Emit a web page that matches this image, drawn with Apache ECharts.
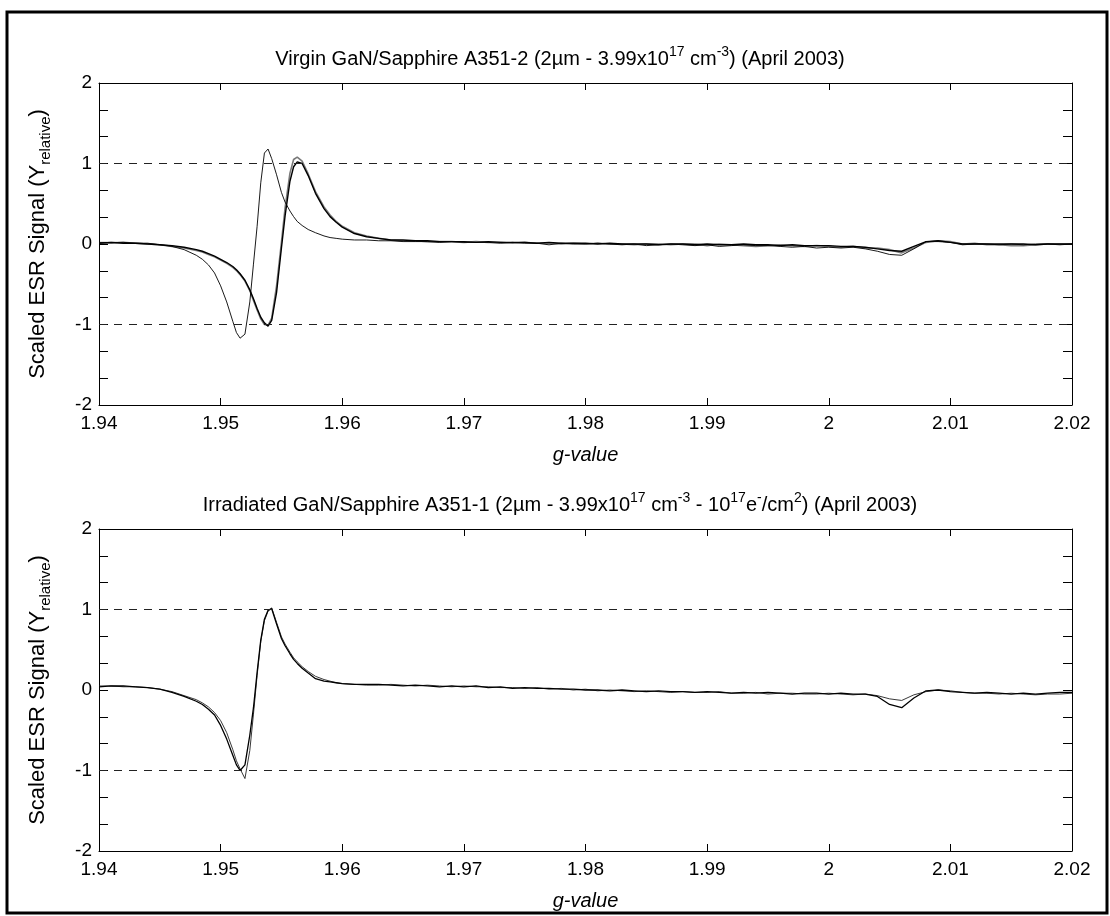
<!DOCTYPE html>
<html>
<head>
<meta charset="utf-8">
<script src="https://cdn.jsdelivr.net/npm/echarts@6/dist/echarts.min.js"></script>
<style>
html,body{margin:0;padding:0;background:#fff;}
#chart{width:1110px;height:916px;}
</style>
</head>
<body>
<div id="chart"></div>
<script>
// ---- data ----
var gPeak = [1.940,1.941,1.942,1.943,1.944,1.945,1.946,1.947,1.948,1.9485,
  1.949,1.9495,1.950,1.9505,1.951,1.9513,1.9516,1.952,1.9524,1.9527,
  1.953,1.9533,1.9536,1.9539,1.9542,1.9546,1.955,1.9553,1.9557,1.956,
  1.9563,1.9567,1.9572,1.9578,1.9585,1.959,1.9595,1.960,1.961,1.962,1.963];
var gFlat = [1.964,1.965,1.966,1.967,1.968,1.969,1.970,1.971,1.972,1.973,
  1.974,1.975,1.976,1.977,1.978,1.979,1.980,1.981,1.982,1.983,
  1.984,1.985,1.986,1.987,1.988,1.989,1.990,1.991,1.992,1.993,
  1.994,1.995,1.996,1.997,1.998,1.999,2.000,2.001,2.002,2.003,
  2.004,2.005,2.006,2.007,2.008,2.009,2.010,2.011,2.012,2.013,
  2.014,2.015,2.016,2.017,2.018,2.019,2.020];

// top plot (virgin)
var virginNarrowPeak = [0.02,0.02,0.02,0.01,0.01,-0.01,-0.03,-0.07,-0.14,-0.19,
  -0.26,-0.36,-0.52,-0.72,-0.96,-1.10,-1.17,-1.12,-0.72,-0.25,
  0.22,0.76,1.13,1.18,1.06,0.86,0.64,0.52,0.41,0.34,
  0.28,0.23,0.18,0.14,0.10,0.08,0.07,0.06,0.05,0.05,0.04];
var virginNarrowFlat = [0.04,0.03,0.03,0.03,0.02,0.03,0.02,0.02,0.02,0.01,
  0.02,0.01,0.01,-0.01,0.01,0.00,0.00,0.01,0.00,-0.01,
  0.00,-0.02,-0.01,0.00,-0.01,-0.02,-0.01,-0.03,-0.02,-0.01,
  -0.02,-0.02,-0.03,-0.04,-0.03,-0.05,-0.04,-0.05,-0.04,-0.06,
  -0.09,-0.13,-0.14,-0.06,0.03,0.03,0.02,-0.01,0.00,0.00,
  -0.01,0.00,-0.01,0.00,0.00,-0.01,0.00];
var virginWideAPeak = [0.01,0.02,0.01,0.01,0.00,-0.01,-0.02,-0.04,-0.07,-0.09,
  -0.12,-0.15,-0.19,-0.23,-0.28,-0.32,-0.37,-0.45,-0.57,-0.68,
  -0.80,-0.91,-0.98,-1.02,-0.95,-0.60,-0.05,0.35,0.78,0.96,
  1.02,1.00,0.85,0.63,0.44,0.34,0.27,0.21,0.13,0.09,0.07];
var virginWideAFlat = [0.05,0.05,0.04,0.04,0.03,0.03,0.03,0.02,0.03,0.02,
  0.02,0.02,0.01,0.02,0.01,0.01,0.01,0.00,0.01,0.00,
  0.00,0.00,-0.01,0.00,0.00,-0.01,0.00,-0.01,-0.01,0.00,
  -0.01,-0.01,-0.02,-0.01,-0.02,-0.02,-0.02,-0.03,-0.03,-0.04,
  -0.06,-0.08,-0.09,-0.03,0.03,0.04,0.02,0.00,0.00,0.00,
  0.00,0.00,0.00,-0.01,0.00,0.00,0.00];
var virginWideBPeak = [0.01,0.01,0.02,0.01,0.00,-0.01,-0.03,-0.05,-0.08,-0.10,
  -0.13,-0.16,-0.20,-0.24,-0.29,-0.33,-0.38,-0.46,-0.58,-0.70,
  -0.82,-0.93,-1.00,-1.01,-0.92,-0.52,0.02,0.45,0.88,1.05,
  1.08,1.03,0.87,0.65,0.46,0.36,0.28,0.22,0.14,0.10,0.07];
var virginWideBFlat = [0.05,0.04,0.04,0.03,0.03,0.03,0.02,0.03,0.02,0.02,
  0.01,0.02,0.01,0.01,0.00,0.01,0.00,0.01,0.00,0.00,
  -0.01,0.00,0.00,-0.01,0.00,0.00,-0.02,0.00,-0.01,-0.02,
  -0.03,-0.02,-0.01,-0.02,-0.03,-0.02,-0.03,-0.04,-0.03,-0.05,
  -0.05,-0.07,-0.11,-0.05,0.02,0.04,0.03,0.00,0.01,-0.01,
  -0.01,-0.02,-0.02,-0.01,0.00,0.00,0.00];

// bottom plot (irradiated)
var irrAPeak = [0.04,0.05,0.05,0.04,0.03,0.01,-0.03,-0.08,-0.14,-0.18,
  -0.24,-0.31,-0.44,-0.61,-0.81,-0.93,-1.00,-0.93,-0.56,-0.22,
  0.22,0.62,0.88,0.99,1.01,0.82,0.64,0.55,0.45,0.38,
  0.33,0.27,0.21,0.14,0.11,0.10,0.09,0.08,0.07,0.07,0.07];
var irrAFlat = [0.06,0.05,0.06,0.05,0.04,0.05,0.04,0.05,0.03,0.04,
  0.02,0.03,0.02,0.02,0.01,0.01,0.00,0.00,-0.01,0.00,
  -0.01,-0.02,-0.01,-0.02,-0.02,-0.03,-0.02,-0.03,-0.04,-0.03,
  -0.04,-0.03,-0.04,-0.05,-0.04,-0.04,-0.05,-0.04,-0.05,-0.05,
  -0.08,-0.18,-0.22,-0.10,-0.01,0.00,-0.02,-0.03,-0.04,-0.03,
  -0.04,-0.05,-0.04,-0.05,-0.04,-0.03,-0.03];
var irrBPeak = [0.05,0.05,0.04,0.04,0.03,0.01,-0.02,-0.07,-0.12,-0.16,
  -0.21,-0.28,-0.38,-0.53,-0.74,-0.88,-0.98,-1.10,-0.75,-0.30,
  0.18,0.60,0.86,0.98,1.02,0.84,0.66,0.57,0.47,0.40,
  0.35,0.29,0.23,0.17,0.13,0.11,0.09,0.08,0.07,0.06,0.06];
var irrBFlat = [0.07,0.06,0.05,0.06,0.05,0.04,0.05,0.04,0.04,0.03,
  0.03,0.02,0.03,0.01,0.02,0.00,0.01,-0.01,0.00,-0.01,
  -0.02,-0.01,-0.02,-0.03,-0.02,-0.03,-0.03,-0.02,-0.04,-0.04,
  -0.03,-0.05,-0.04,-0.04,-0.05,-0.05,-0.04,-0.05,-0.06,-0.05,
  -0.07,-0.11,-0.13,-0.06,-0.02,0.00,-0.01,-0.03,-0.04,-0.04,
  -0.05,-0.04,-0.05,-0.06,-0.05,-0.05,-0.04];

var xTickMin = 1.94, xTickMax = 2.02, xTickStep = 0.01;
var yTickMin = -2, yTickMax = 2, yTickStep = 1/3;
var refLines = [1, -1];

var topTitle = 'Virgin GaN/Sapphire A351-2 (2\u00b5m - 3.99x10{sup|17} cm{sup|-3}) (April 2003)';
var bottomTitle = 'Irradiated GaN/Sapphire A351-1 (2\u00b5m - 3.99x10{sup|17} cm{sup|-3} - 10{sup|17}e{sup|-}/cm{sup|2}) (April 2003)';
var yName = 'Scaled ESR Signal (Y{sub|relative})';
var xName = 'g-value';

// ---- build ----
function zip(g, a, b) {
  var gx = g.concat(gFlat), v = a.concat(b), out = [];
  for (var i = 0; i < gx.length; i++) out.push([gx[i], v[i]]);
  return out;
}
var FONT = 'Liberation Sans, Arial, Helvetica, sans-serif';
var GRID_L = 99, GRID_W = 973, GRID_H = 322;
var gridTops = [83, 529];
var TITLE_X = 560;

function xAxisPair(gi) {
  var base = {
    type: 'value', gridIndex: gi, min: xTickMin, max: xTickMax, interval: xTickStep,
    axisLine: {show: true, onZero: false, lineStyle: {color: '#000', width: 1}},
    axisTick: {show: true, inside: true, length: 7, lineStyle: {color: '#000'}},
    splitLine: {show: false}
  };
  var bottom = echarts.util.merge({
    position: 'bottom',
    axisLabel: {show: true, color: '#000', fontSize: 19, fontFamily: FONT, margin: 9,
      formatter: function (v) { return String(parseFloat(v.toFixed(2))); }},
    name: xName, nameLocation: 'middle', nameGap: 40,
    nameTextStyle: {color: '#000', fontSize: 20, fontStyle: 'italic', fontFamily: FONT}
  }, base, true);
  var top = echarts.util.merge({position: 'top', axisLabel: {show: false}}, base, true);
  return [bottom, top];
}
function yAxisPair(gi) {
  var base = {
    type: 'value', gridIndex: gi, min: yTickMin, max: yTickMax, interval: yTickStep,
    axisLine: {show: true, onZero: false, lineStyle: {color: '#000', width: 1}},
    axisTick: {show: true, inside: true, length: 9, lineStyle: {color: '#000'}},
    splitLine: {show: false}
  };
  var left = echarts.util.merge({
    position: 'left',
    axisLabel: {show: true, color: '#000', fontSize: 19, fontFamily: FONT, margin: 7,
      formatter: function (v) {
        var r = Math.round(v);
        return Math.abs(v - r) < 1e-6 ? String(r) : '';
      }},
    name: yName, nameLocation: 'middle', nameGap: 46, nameRotate: 90,
    nameTextStyle: {color: '#000', fontSize: 22, fontFamily: FONT, lineHeight: 30,
      rich: {sub: {fontSize: 15, fontFamily: FONT, color: '#000', verticalAlign: 'bottom', lineHeight: 15}}}
  }, base, true);
  var right = echarts.util.merge({position: 'right', axisLabel: {show: false}}, base, true);
  return [left, right];
}

var xAxes = xAxisPair(0).concat(xAxisPair(1));
var yAxes = yAxisPair(0).concat(yAxisPair(1));

function line(data, xi, yi, color, width, z, mark) {
  var s = {
    type: 'line', xAxisIndex: xi, yAxisIndex: yi, data: data,
    showSymbol: false, symbol: 'none', smooth: false, z: z,
    lineStyle: {color: color, width: width}, silent: true
  };
  if (mark) {
    s.markLine = {
      silent: true, symbol: 'none', label: {show: false},
      lineStyle: {type: [8, 7], color: '#222', width: 1},
      data: refLines.map(function (v) { return {yAxis: v}; })
    };
  }
  return s;
}

var series = [
  line(zip(gPeak, virginWideBPeak, virginWideBFlat), 0, 0, '#7a7a7a', 1.6, 2, true),
  line(zip(gPeak, virginWideAPeak, virginWideAFlat), 0, 0, '#000', 1.4, 3, false),
  line(zip(gPeak, virginNarrowPeak, virginNarrowFlat), 0, 0, '#000', 0.9, 4, false),
  line(zip(gPeak, irrBPeak, irrBFlat), 2, 2, '#222', 0.9, 2, true),
  line(zip(gPeak, irrAPeak, irrAFlat), 2, 2, '#000', 1.3, 3, false)
];

var supRich = {sup: {fontSize: 14, fontFamily: FONT, fill: '#000', verticalAlign: 'top', lineHeight: 13}};
function titleText(txt, y) {
  return {
    type: 'text', x: TITLE_X, y: y,
    style: {text: txt, fill: '#000', fontSize: 20, fontFamily: FONT, lineHeight: 28,
      align: 'center', verticalAlign: 'middle', rich: supRich}
  };
}

var chart = echarts.init(document.getElementById('chart'), null, {renderer: 'canvas'});
chart.setOption({
  animation: false,
  backgroundColor: '#fff',
  grid: gridTops.map(function (t) {
    return {left: GRID_L, top: t, width: GRID_W, height: GRID_H, containLabel: false};
  }),
  xAxis: xAxes,
  yAxis: yAxes,
  series: series,
  graphic: [
    {type: 'rect', shape: {x: 7, y: 12, width: 1100, height: 901},
      style: {fill: 'none', stroke: '#000', lineWidth: 3}, z: 100},
    titleText(topTitle, 59),
    titleText(bottomTitle, 505)
  ]
});
</script>
</body>
</html>
